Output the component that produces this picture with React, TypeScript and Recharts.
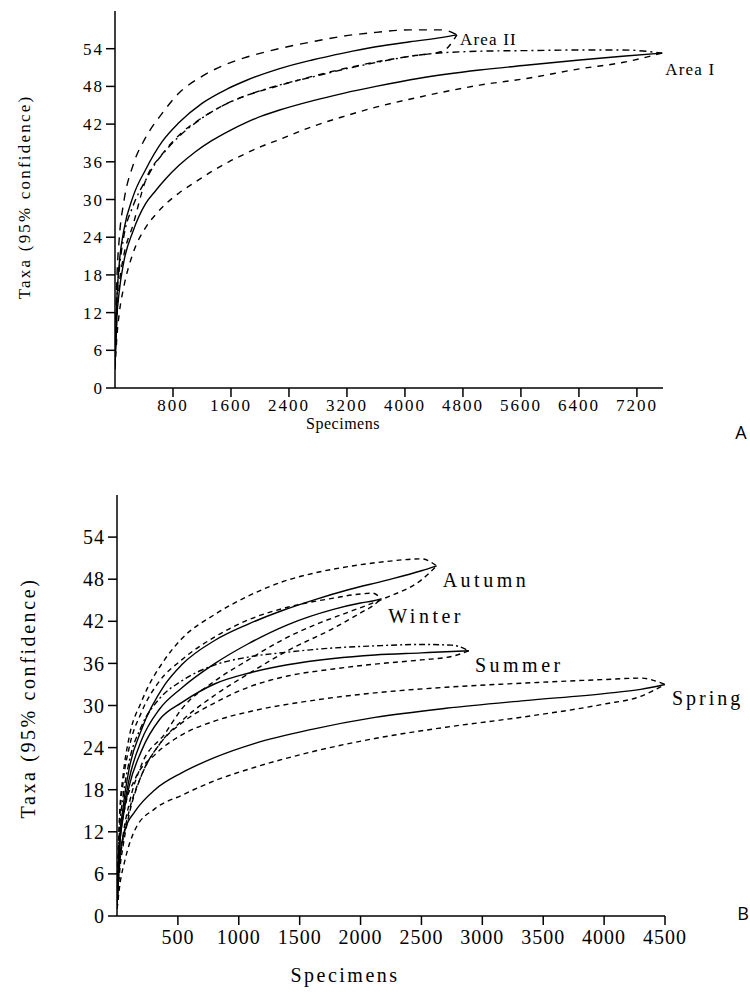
import { LineChart, Line, XAxis, YAxis, ReferenceDot } from 'recharts';

// ---- A: Area I / Area II ----
const areaIIx = [1, 25, 60, 120, 250, 420, 650, 880, 1200, 1550, 1800, 2260, 2720, 3150, 3600, 4070, 4520, 4717];
const areaIIMean = [5, 14, 20, 25, 30.5, 34.7, 39.2, 42.2, 45.3, 47.6, 48.9, 50.8, 52.2, 53.3, 54.3, 55.1, 55.8, 56.2];
const areaIIUpper = [6, 17, 24, 29.5, 35.5, 39.8, 43.7, 46.9, 49.6, 51.6, 52.6, 54, 55.1, 56, 56.6, 57, 57, 56.2];
const areaIILower = [4, 11, 16.5, 21, 26, 33, 37.2, 40.2, 43, 45.3, 46.5, 48.1, 49.6, 50.8, 51.9, 52.8, 53.6, 56.2];

const areaIx = [1, 25, 60, 120, 250, 420, 560, 700, 880, 1110, 1340, 1570, 1800, 2030, 2260, 2720, 3150, 3600, 4200, 5030, 5700, 6410, 7000, 7550];
const areaIMean = [4, 11, 15.5, 20, 25, 29.3, 31.4, 33.3, 35.4, 37.6, 39.4, 40.9, 42.2, 43.3, 44.2, 45.7, 46.9, 48, 49.3, 50.6, 51.4, 52.2, 52.8, 53.3];
const areaIUpper = [5, 14, 19, 24, 29, 33, 35.8, 37.8, 40, 42.2, 44, 45.4, 46.5, 47.4, 48.2, 49.5, 50.7, 51.8, 53, 53.6, 53.7, 53.8, 53.8, 53.3];
const areaILower = [3, 8, 12, 16, 21.5, 25.5, 27.6, 29.3, 31, 32.8, 34.5, 36, 37.3, 38.5, 39.5, 41.6, 43.2, 44.7, 46.3, 48.2, 49.3, 50.8, 51.8, 53.3];

const ticksAx = [800, 1600, 2400, 3200, 4000, 4800, 5600, 6400, 7200];
const ticksY = [0, 6, 12, 18, 24, 30, 36, 42, 48, 54];

// ---- B: seasons ----
const autumnX = [1, 20, 50, 100, 200, 394, 531, 805, 1078, 1352, 1626, 1899, 2200, 2500, 2625];
const autumnMean = [2, 10.5, 15.5, 21, 26.5, 33, 35.8, 39.3, 41.6, 43.5, 45.1, 46.5, 47.8, 49.2, 49.9];
const autumnUpper = [3, 14, 20, 25.5, 30.5, 36.6, 39.5, 43, 45.6, 47.6, 48.9, 49.8, 50.5, 50.9, 49.9];
const autumnLower = [1, 7, 11.5, 16, 21.5, 26, 29.5, 33.5, 36.5, 39.3, 41.5, 43.3, 45.3, 47.9, 49.9];

const winterX = [1, 20, 50, 100, 200, 350, 531, 805, 1078, 1400, 1777, 2000, 2100, 2170];
const winterMean = [2, 9.5, 14.5, 19.5, 25, 29.5, 32.5, 36, 38.8, 41.5, 43.7, 44.6, 44.9, 45.2];
const winterUpper = [3, 13, 19, 24, 29, 33.5, 36.5, 39.8, 42.2, 44, 45.3, 45.9, 46, 45.2];
const winterLower = [1, 6, 10, 14.5, 20, 24.5, 27.8, 31.5, 34.5, 37.8, 41, 43.2, 44.2, 45.2];

const summerX = [1, 20, 50, 100, 200, 350, 531, 805, 1078, 1400, 1777, 2118, 2500, 2750, 2890];
const summerMean = [2, 9.5, 14, 18.5, 23.5, 28, 30.4, 33.1, 34.6, 35.8, 36.7, 37.2, 37.5, 37.7, 37.8];
const summerUpper = [3, 12, 17, 22, 27, 31, 33.5, 35.8, 36.9, 37.6, 38.2, 38.5, 38.7, 38.6, 37.8];
const summerLower = [1.5, 7, 11, 15, 20, 24.5, 27.5, 30.4, 32.6, 34.2, 35.2, 35.9, 36.5, 37, 37.8];

const springX = [1, 20, 66, 148, 312, 531, 805, 1133, 1600, 2118, 2700, 3350, 4000, 4300, 4500];
const springMean = [1.5, 8, 12.3, 14.9, 18, 20.4, 22.6, 24.6, 26.6, 28.3, 29.6, 30.7, 31.7, 32.3, 33];
const springUpper = [2, 10, 15.5, 19.5, 23, 25.8, 27.8, 29.3, 30.7, 31.8, 32.6, 33.2, 33.7, 33.9, 33];
const springLower = [1, 4, 8, 12.3, 15.3, 17.2, 19.3, 21.2, 23.4, 25.3, 26.9, 28.4, 30.2, 31.3, 33];

const ticksBx = [500, 1000, 1500, 2000, 2500, 3000, 3500, 4000, 4500];

const zip = (xs: number[], ys: number[]) => xs.map((x, i) => ({ x, y: ys[i] }));

const serif = '"Liberation Serif", "Times New Roman", serif';

const endLabel = (text: string, dx: number, dy: number, size: number, spacing: number) => (props: any) => {
  const vb = props.viewBox || {};
  return (
    <text x={vb.x + dx} y={vb.y + dy} fontFamily={serif} fontSize={size} letterSpacing={spacing} fill="#000" dominantBaseline="middle">
      {text}
    </text>
  );
};

const lineProps = { type: 'monotone' as const, dataKey: 'y', stroke: '#000', dot: false, isAnimationActive: false, strokeWidth: 1.4 };

export default function App() {
  const tickA = { fontFamily: serif, fontSize: 17, fill: '#000', letterSpacing: 2 };
  const tickB = { fontFamily: serif, fontSize: 20, fill: '#000', letterSpacing: 1 };
  return (
    <div style={{ position: 'absolute', left: 0, top: 0, width: 750, height: 996, background: '#fff', fontFamily: serif }}>
      <div style={{ position: 'absolute', left: 0, top: 0 }}>
        <LineChart width={750} height={440} margin={{ top: 11, right: 87, bottom: 22, left: 55 }}>
          <XAxis type="number" dataKey="x" domain={[0, 7560]} ticks={ticksAx} allowDataOverflow
            stroke="#000" strokeWidth={1.5} tickSize={9} tickMargin={2} tick={tickA} height={30} />
          <YAxis type="number" domain={[0, 60]} ticks={ticksY} allowDataOverflow
            stroke="#000" strokeWidth={1.5} tickSize={9} tickMargin={2} tick={tickA} width={60} />
          <Line {...lineProps} data={zip(areaIIx, areaIIUpper)} strokeDasharray="8 7" />
          <Line {...lineProps} data={zip(areaIIx, areaIIMean)} />
          <Line {...lineProps} data={zip(areaIIx, areaIILower)} strokeDasharray="6 6" />
          <Line {...lineProps} data={zip(areaIx, areaIUpper)} strokeDasharray="7 4 2 4" />
          <Line {...lineProps} data={zip(areaIx, areaIMean)} />
          <Line {...lineProps} data={zip(areaIx, areaILower)} strokeDasharray="6 6" />
          <ReferenceDot x={areaIIx[areaIIx.length - 1]} y={areaIIMean[areaIIMean.length - 1]} r={0}
            label={endLabel('Area II', 3, 6, 17, 1.2)} />
          <ReferenceDot x={areaIx[areaIx.length - 1]} y={areaIMean[areaIMean.length - 1]} r={0}
            label={endLabel('Area I', 3, 18, 17, 1.2)} />
        </LineChart>
      </div>
      <div style={{ position: 'absolute', left: 25, top: 197, transform: 'translate(-50%, -50%) rotate(-90deg)', whiteSpace: 'nowrap', fontSize: 17, letterSpacing: 2.2 }}>
        Taxa (95% confidence)
      </div>
      <div style={{ position: 'absolute', left: 343, top: 424, transform: 'translate(-50%, -50%)', fontSize: 16, letterSpacing: 0.5 }}>Specimens</div>
      <div style={{ position: 'absolute', left: 741, top: 432, transform: 'translate(-50%, -50%)', fontFamily: '"Open Sans", sans-serif', fontSize: 18 }}>A</div>

      <div style={{ position: 'absolute', left: 0, top: 470 }}>
        <LineChart width={750} height={526} margin={{ top: 25, right: 85, bottom: 50, left: 57 }}>
          <XAxis type="number" dataKey="x" domain={[0, 4500]} ticks={ticksBx} allowDataOverflow
            stroke="#000" strokeWidth={1.5} tickSize={9} tickMargin={5} tick={tickB} height={30} />
          <YAxis type="number" domain={[0, 60]} ticks={ticksY} allowDataOverflow
            stroke="#000" strokeWidth={1.5} tickSize={9} tickMargin={3} tick={tickB} width={60} />
          <Line {...lineProps} data={zip(autumnX, autumnUpper)} strokeDasharray="5 4" />
          <Line {...lineProps} data={zip(autumnX, autumnMean)} />
          <Line {...lineProps} data={zip(autumnX, autumnLower)} strokeDasharray="5 4" />
          <Line {...lineProps} data={zip(winterX, winterUpper)} strokeDasharray="5 4" />
          <Line {...lineProps} data={zip(winterX, winterMean)} />
          <Line {...lineProps} data={zip(winterX, winterLower)} strokeDasharray="5 4" />
          <Line {...lineProps} data={zip(summerX, summerUpper)} strokeDasharray="6 3 2 3" />
          <Line {...lineProps} data={zip(summerX, summerMean)} />
          <Line {...lineProps} data={zip(summerX, summerLower)} strokeDasharray="5 4" />
          <Line {...lineProps} data={zip(springX, springUpper)} strokeDasharray="5 4" />
          <Line {...lineProps} data={zip(springX, springMean)} />
          <Line {...lineProps} data={zip(springX, springLower)} strokeDasharray="5 4" />
          <ReferenceDot x={autumnX[autumnX.length - 1]} y={autumnMean[autumnMean.length - 1]} r={0}
            label={endLabel('Autumn', 6, 17, 20, 3.5)} />
          <ReferenceDot x={winterX[winterX.length - 1]} y={winterMean[winterMean.length - 1]} r={0}
            label={endLabel('Winter', 7, 20, 20, 3.5)} />
          <ReferenceDot x={summerX[summerX.length - 1]} y={summerMean[summerMean.length - 1]} r={0}
            label={endLabel('Summer', 6, 17, 20, 3.5)} />
          <ReferenceDot x={springX[springX.length - 1]} y={springMean[springMean.length - 1]} r={0} ifOverflow="visible"
            label={endLabel('Spring', 7, 16, 20, 3)} />
        </LineChart>
      </div>
      <div style={{ position: 'absolute', left: 28, top: 698, transform: 'translate(-50%, -50%) rotate(-90deg)', whiteSpace: 'nowrap', fontSize: 20, letterSpacing: 2.6 }}>
        Taxa (95% confidence)
      </div>
      <div style={{ position: 'absolute', left: 345, top: 975, transform: 'translate(-50%, -50%)', fontSize: 20, letterSpacing: 2.5 }}>Specimens</div>
      <div style={{ position: 'absolute', left: 743, top: 913, transform: 'translate(-50%, -50%)', fontFamily: '"Open Sans", sans-serif', fontSize: 18 }}>B</div>
    </div>
  );
}
